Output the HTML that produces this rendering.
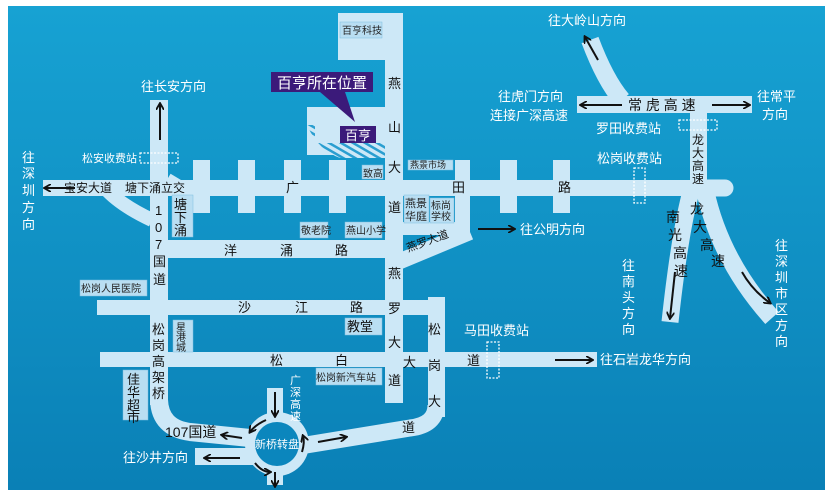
<!DOCTYPE html>
<html><head><meta charset="utf-8"><style>
html,body{margin:0;padding:0;background:#fff;}
svg{display:block;}
text{font-family:"Liberation Sans","Noto Sans CJK SC",sans-serif;}
.r{fill:#cde8f7;}
.rs{stroke:#cde8f7;fill:none;}
.b{fill:#111;font-size:13px;}
.w{fill:#fff;font-size:13px;}
.lb{fill:#b9def2;stroke:#7fbfe0;stroke-width:0.5;}
.s{fill:#222;font-size:10px;}
.dash{fill:none;stroke:#fff;stroke-width:1.3;stroke-dasharray:2 1.5;}
.ar{stroke:#111;stroke-width:2;fill:none;}
</style></head><body>
<svg width="832" height="497" viewBox="0 0 832 497" xmlns="http://www.w3.org/2000/svg">
<defs>
<linearGradient id="g" x1="0" y1="0" x2="0" y2="1">
<stop offset="0" stop-color="#17a2d3"/><stop offset="1" stop-color="#0a80b6"/>
</linearGradient>
<pattern id="h" width="6" height="6" patternUnits="userSpaceOnUse" patternTransform="rotate(30)">
<rect width="6" height="6" fill="#cde8f7"/><rect width="6" height="2.5" fill="#2a9ed0"/>
</pattern>
<marker id="m" markerWidth="8" markerHeight="8" refX="6" refY="4" orient="auto" markerUnits="userSpaceOnUse"><path d="M0,0 L7,4 L0,8" fill="none" stroke="#111" stroke-width="1.8"/></marker>
</defs>
<rect x="8" y="6" width="817" height="484" fill="url(#g)"/>

<!-- roads -->
<g class="r">
<rect x="385" y="13" width="18" height="390"/>
<rect x="338" y="13" width="65" height="47"/>
<rect x="307" y="107" width="78" height="48"/>
<rect x="43" y="180" width="650" height="16"/>
<rect x="150" y="100" width="18" height="305"/>
<rect x="193" y="160" width="17" height="53"/>
<rect x="238" y="160" width="17" height="53"/>
<rect x="284" y="160" width="17" height="53"/>
<rect x="329" y="160" width="17" height="53"/>
<rect x="455" y="160" width="15" height="75"/>
<rect x="500" y="160" width="17" height="53"/>
<rect x="553" y="160" width="17" height="53"/>
<rect x="168" y="240" width="217" height="18"/>
<rect x="403" y="222" width="67" height="13"/>
<rect x="97" y="300" width="348" height="15"/>
<rect x="428" y="297" width="17" height="120"/>
<rect x="100" y="352" width="497" height="15"/>
<rect x="577" y="96" width="175" height="17"/>
<rect x="690" y="113" width="17" height="75"/>
<rect x="267" y="388" width="16" height="32"/>
<rect x="267" y="465" width="16" height="20"/>
<rect x="195" y="448" width="60" height="17"/>
</g>
<path d="M307,125 L385,125 L385,158 L340,158 Q318,150 307,125Z" fill="url(#h)"/>
<rect x="315" y="125" width="70" height="18" fill="#cde8f7"/>
<g class="rs">
<path d="M398,262 L470,232" stroke-width="16"/>
<path d="M159,400 Q160,428 190,432 L250,438" stroke-width="18"/>
<path d="M436,405 Q436,425 410,428 L300,446" stroke-width="17"/>
<path d="M105,188 Q120,205 152,220" stroke-width="14"/>
<path d="M168,178 L188,190" stroke-width="10"/>
<path d="M590,40 Q605,80 622,100" stroke-width="18"/>
<path d="M692,188 Q680,230 670,322" stroke-width="17"/>
<path d="M705,190 Q720,260 772,318" stroke-width="18"/>
<path d="M700,188 L725,188" stroke-width="17" stroke-linecap="round"/>
</g>
<circle cx="277" cy="444" r="32" fill="#cde8f7"/>
<circle cx="277" cy="444" r="22" fill="#0b86bd"/>
<text x="277" y="448" text-anchor="middle" fill="#fff" font-size="11">新桥转盘</text>

<!-- dashed toll boxes -->
<rect class="dash" x="140" y="153" width="38" height="10"/>
<rect class="dash" x="634" y="168" width="11" height="35"/>
<rect class="dash" x="679" y="120" width="38" height="10"/>
<rect class="dash" x="487" y="342" width="12" height="36"/>

<!-- arrows -->
<g class="ar">
<path d="M160,140 V104" marker-end="url(#m)"/>
<path d="M75,188 H45" marker-end="url(#m)"/>
<path d="M478,229 H514" marker-end="url(#m)"/>
<path d="M555,360 H592" marker-end="url(#m)"/>
<path d="M598,60 L585,37" marker-end="url(#m)"/>
<path d="M622,105 H581" marker-end="url(#m)"/>
<path d="M712,105 H749" marker-end="url(#m)"/>
<path d="M675,272 L670,318" marker-end="url(#m)"/>
<path d="M742,272 Q752,290 770,303" marker-end="url(#m)"/>
<path d="M275,392 V416" marker-end="url(#m)"/>
<path d="M275,472 V486" marker-end="url(#m)"/>
<path d="M240,458 H205" marker-end="url(#m)"/>
<path d="M242,438 L222,435" marker-end="url(#m)"/>
<path d="M318,442 L346,437" marker-end="url(#m)"/>
<path d="M266,420 Q255,425 250,432" marker-end="url(#m)"/>
<path d="M302,452 Q305,442 303,436" marker-end="url(#m)"/>
<path d="M255,463 Q262,472 270,472" marker-end="url(#m)"/>
</g>

<!-- label boxes -->
<g class="lb">
<rect x="340" y="22" width="42" height="16"/>
<rect x="362" y="165" width="21" height="14"/>
<rect x="300" y="222" width="28" height="16"/>
<rect x="345" y="222" width="37" height="16"/>
<rect x="404" y="195" width="25" height="28"/>
<rect x="430" y="198" width="24" height="25"/>
<rect x="408" y="160" width="45" height="10"/>
<rect x="172" y="195" width="21" height="42"/>
<rect x="80" y="280" width="67" height="16"/>
<rect x="173" y="320" width="20" height="32"/>
<rect x="123" y="370" width="25" height="50"/>
<rect x="316" y="368" width="66" height="17"/>
<rect x="345" y="318" width="37" height="17"/>
</g>
<rect x="271" y="72" width="102" height="20" fill="#3b1a7a"/>
<path d="M320,92 L355,122 L345,92Z" fill="#3b1a7a"/>
<rect x="340" y="126" width="36" height="17" fill="#3b1a7a"/>
<text x="322" y="88" text-anchor="middle" fill="#fff" font-size="15">百亨所在位置</text>
<text x="358" y="140" text-anchor="middle" fill="#fff" font-size="13">百亨</text>

<g class="s">
<text x="342" y="34">百亨科技</text>
<text x="363" y="177">致高</text>
<text x="301" y="234">敬老院</text>
<text x="346" y="234">燕山小学</text>
<text x="405" y="207" font-size="11">燕景</text><text x="405" y="220" font-size="11">华庭</text>
<text x="431" y="209">标尚</text><text x="431" y="220">学校</text>
<text x="410" y="168" font-size="9">燕景市场</text>
<text x="81" y="292">松岗人民医院</text>
<text x="316" y="381">松岗新汽车站</text>
<text x="176" y="331">星</text><text x="176" y="341">港</text><text x="176" y="351">城</text>
</g>
<g class="b">
<text x="174" y="209">塘</text><text x="174" y="222">下</text><text x="174" y="235">涌</text>
<text x="347" y="331">教堂</text>
<text x="127" y="384">佳</text><text x="127" y="397">华</text><text x="127" y="410">超</text><text x="127" y="422">市</text>
<text x="388" y="88">燕</text><text x="388" y="132">山</text><text x="388" y="172">大</text><text x="388" y="212">道</text>
<text x="286" y="192">广</text><text x="452" y="192">田</text><text x="558" y="192">路</text>
<text x="64" y="192" font-size="12">宝安大道</text>
<text x="125" y="192" font-size="12">塘下涌立交</text>
<text x="155" y="215">1</text><text x="155" y="232">0</text><text x="155" y="249">7</text><text x="153" y="266">国</text><text x="153" y="284">道</text>
<text x="224" y="255">洋</text><text x="280" y="255">涌</text><text x="335" y="255">路</text>
<text x="238" y="312">沙</text><text x="295" y="312">江</text><text x="350" y="312">路</text>
<text x="388" y="278">燕</text><text x="388" y="313">罗</text><text x="388" y="347">大</text><text x="388" y="385">道</text>
<text x="403" y="367">大</text>
<text x="428" y="334">松</text><text x="428" y="370">岗</text><text x="428" y="406">大</text><text x="402" y="432">道</text>
<text x="467" y="365">道</text>
<text x="270" y="365">松</text><text x="335" y="365">白</text>
<text x="152" y="334">松</text><text x="152" y="350">岗</text><text x="152" y="366">高</text><text x="152" y="382">架</text><text x="152" y="398">桥</text>
<text x="165" y="437" font-size="14">107国道</text>
<text x="408" y="252" font-size="11" transform="rotate(-20 408 252)">燕罗大道</text>
<text x="628" y="110" font-size="14">常 虎 高 速</text>
<text x="692" y="144" font-size="12">龙</text><text x="692" y="157" font-size="12">大</text><text x="692" y="170" font-size="12">高</text><text x="692" y="183" font-size="12">速</text>
<text x="666" y="222" font-size="14">南</text><text x="668" y="240" font-size="14">光</text><text x="673" y="258" font-size="14">高</text><text x="674" y="276" font-size="14">速</text>
<text x="690" y="214" font-size="14">龙</text><text x="693" y="232" font-size="14">大</text><text x="700" y="250" font-size="14">高</text><text x="711" y="266" font-size="14">速</text>
</g>
<g class="w">
<text x="548" y="25">往大岭山方向</text>
<text x="141" y="91">往长安方向</text>
<text x="498" y="101">往虎门方向</text>
<text x="490" y="120">连接广深高速</text>
<text x="596" y="133">罗田收费站</text>
<text x="597" y="163">松岗收费站</text>
<text x="757" y="101">往常平</text>
<text x="762" y="119">方向</text>
<text x="82" y="162" font-size="11">松安收费站</text>
<text x="22" y="162">往</text><text x="22" y="178">深</text><text x="22" y="195">圳</text><text x="22" y="212">方</text><text x="22" y="229">向</text>
<text x="520" y="234">往公明方向</text>
<text x="464" y="335">马田收费站</text>
<text x="600" y="364">往石岩龙华方向</text>
<text x="622" y="270">往</text><text x="622" y="286">南</text><text x="622" y="302">头</text><text x="622" y="318">方</text><text x="622" y="334">向</text>
<text x="775" y="250">往</text><text x="775" y="266">深</text><text x="775" y="282">圳</text><text x="775" y="298">市</text><text x="775" y="314">区</text><text x="775" y="330">方</text><text x="775" y="346">向</text>
<text x="123" y="462">往沙井方向</text>
<text x="290" y="384" font-size="11">广</text><text x="290" y="396" font-size="11">深</text><text x="290" y="408" font-size="11">高</text><text x="290" y="420" font-size="11">速</text>
</g>
</svg>
</body></html>
